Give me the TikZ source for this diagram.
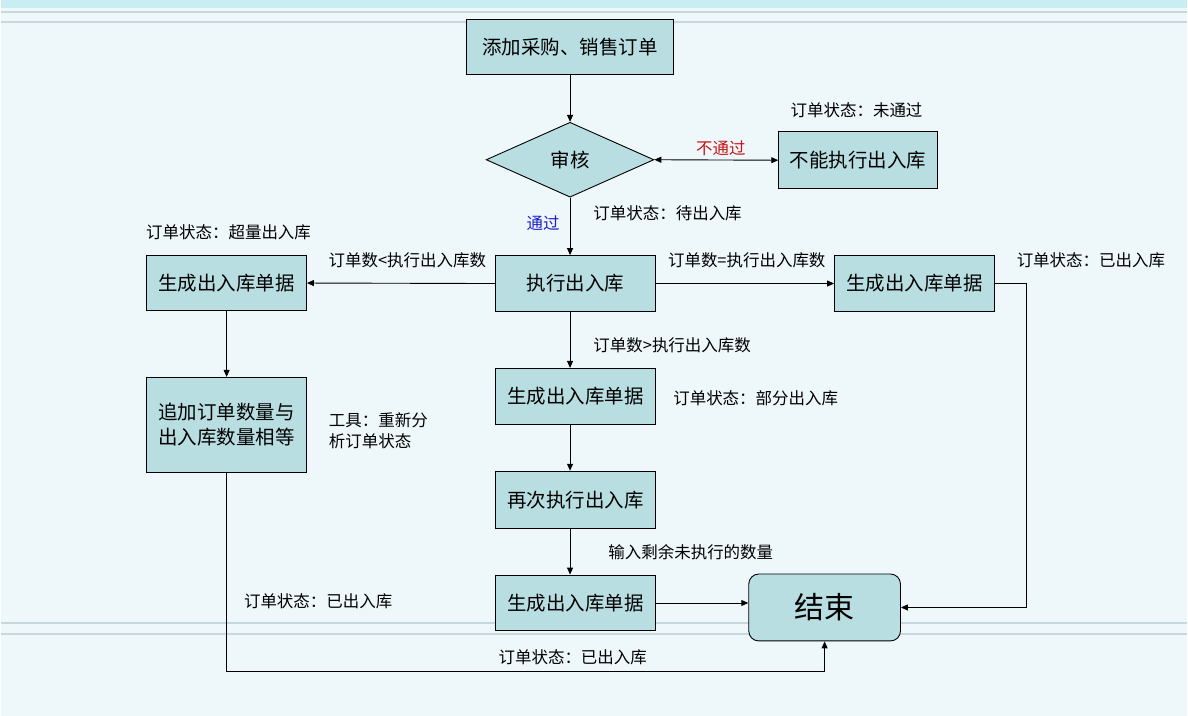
\documentclass[tikz,border=0pt]{standalone}
\usepackage{fontspec}
\setmainfont{Noto Sans CJK SC}
\usetikzlibrary{arrows.meta,shapes.geometric,positioning}
\definecolor{boxfill}{RGB}{184,222,226}
\definecolor{bgfill}{RGB}{238,248,250}
\definecolor{stripe}{RGB}{196,216,222}
\definecolor{topband}{RGB}{200,238,244}
\definecolor{noblue}{RGB}{200,20,20}
\definecolor{okblue}{RGB}{30,30,200}
\begin{document}
\begin{tikzpicture}[
  x=1pt, y=-1pt, >={Triangle[length=7pt,width=6pt]},
  line width=0.9pt,
  stepbox/.style={draw, fill=boxfill, minimum width=160pt, minimum height=56pt, inner sep=2pt, align=center, font=\fontsize{19.5}{25}\selectfont},
  check/.style={draw, fill=boxfill, diamond, aspect=2.24, minimum width=168pt, minimum height=75pt, inner sep=0pt, font=\fontsize{19.5}{22}\selectfont},
  endbox/.style={draw, fill=boxfill, rounded corners=10pt, minimum width=152pt, minimum height=67pt, font=\fontsize{30}{32}\selectfont},
  lbl/.style={inner sep=0pt, font=\fontsize{16.5}{21}\selectfont}]
% ---------------- background ----------------
\fill[bgfill] (0,0) rectangle (1188,717);
\fill[topband] (0,0) rectangle (1188,8);
\draw[stripe, line width=2pt] (0,12) -- (1188,12);
\draw[stripe, line width=2pt] (0,22) -- (1188,22);
\draw[stripe, line width=2pt] (0,624) -- (1188,624);
\draw[stripe, line width=2pt] (0,635) -- (1188,635);
% ---------------- main column ----------------
\node[stepbox, minimum width=208pt] (order) at (570,47) {添加采购、销售订单};
\node[check] (audit) at (570,160) {审核};
\node[stepbox, minimum width=159pt, minimum height=57pt] (refuse) at (858.5,160.5) {不能执行出入库};
\node[stepbox] (exec) at (575.5,284) {执行出入库};
\node[stepbox] (genM) at (575.5,397) {生成出入库单据};
\node[stepbox, minimum height=57pt] (again) at (575.5,500.5) {再次执行出入库};
\node[stepbox] (genB) at (575.5,604) {生成出入库单据};
\node[endbox] (finish) at (825,608.5) {结束};
% ---------------- side columns ----------------
\node[stepbox, minimum height=55pt] (genL) at (226,283.5) {生成出入库单据};
\node[stepbox, minimum height=95pt] (extra) at (226,425.5) {追加订单数量与\\出入库数量相等};
\node[stepbox] (genR) at (915,284) {生成出入库单据};
\coordinate (rturn) at (1027,608.5);
\coordinate (lturn) at (226,673);
% ---------------- connectors ----------------
\draw[->] (order.south) -- (audit.north);
\draw[<->] (audit.east) -- (refuse.west);
\draw[->] (audit.south) -- (audit.south |- exec.north);
\draw[->] (exec.west) -- (genL.east);
\draw[->] (exec.east) -- (genR.west);
\draw[->] (audit.south |- exec.south) -- (audit.south |- genM.north);
\draw[->] (audit.south |- genM.south) -- (audit.south |- again.north);
\draw[->] (audit.south |- again.south) -- (audit.south |- genB.north);
\draw[->] (genB.east) -- (genB.east -| finish.west);
\draw[->] (genR.east) -| (rturn) -- (finish.east);
\draw[->] (genL.south) -- (extra.north);
\draw[->] (extra.south) -- (lturn) -| (finish.south);
% ---------------- labels ----------------
\node[lbl, text=noblue] (lnopass) at (721,148) {不通过};
\node[lbl, text=okblue] (lpass) at (543,224) {通过};
\node[lbl] (sfail) at (857,110) {订单状态：未通过};
\node[lbl, anchor=west] (swait) at (593,214) {订单状态：待出入库};
\node[lbl, anchor=west] (sover) at (145,233) {订单状态：超量出入库};
\node[lbl, anchor=west] (sdoneR) at (1017,261) {订单状态：已出入库};
\node[lbl] (lless) at (407,261) {订单数<执行出入库数};
\node[lbl] (lequal) at (747,261) {订单数=执行出入库数};
\node[lbl, anchor=west] (lmore) at (593,346) {订单数>执行出入库数};
\node[lbl, anchor=west] (spart) at (673,399) {订单状态：部分出入库};
\node[lbl, anchor=west, align=left] (tool) at (328,431) {工具：重新分\\析订单状态};
\node[lbl, anchor=west] (lrest) at (608,553) {输入剩余未执行的数量};
\node[lbl, anchor=west] (sdoneL) at (243,602) {订单状态：已出入库};
\node[lbl, anchor=west] (sdoneB) at (498,658) {订单状态：已出入库};
\end{tikzpicture}
\end{document}
